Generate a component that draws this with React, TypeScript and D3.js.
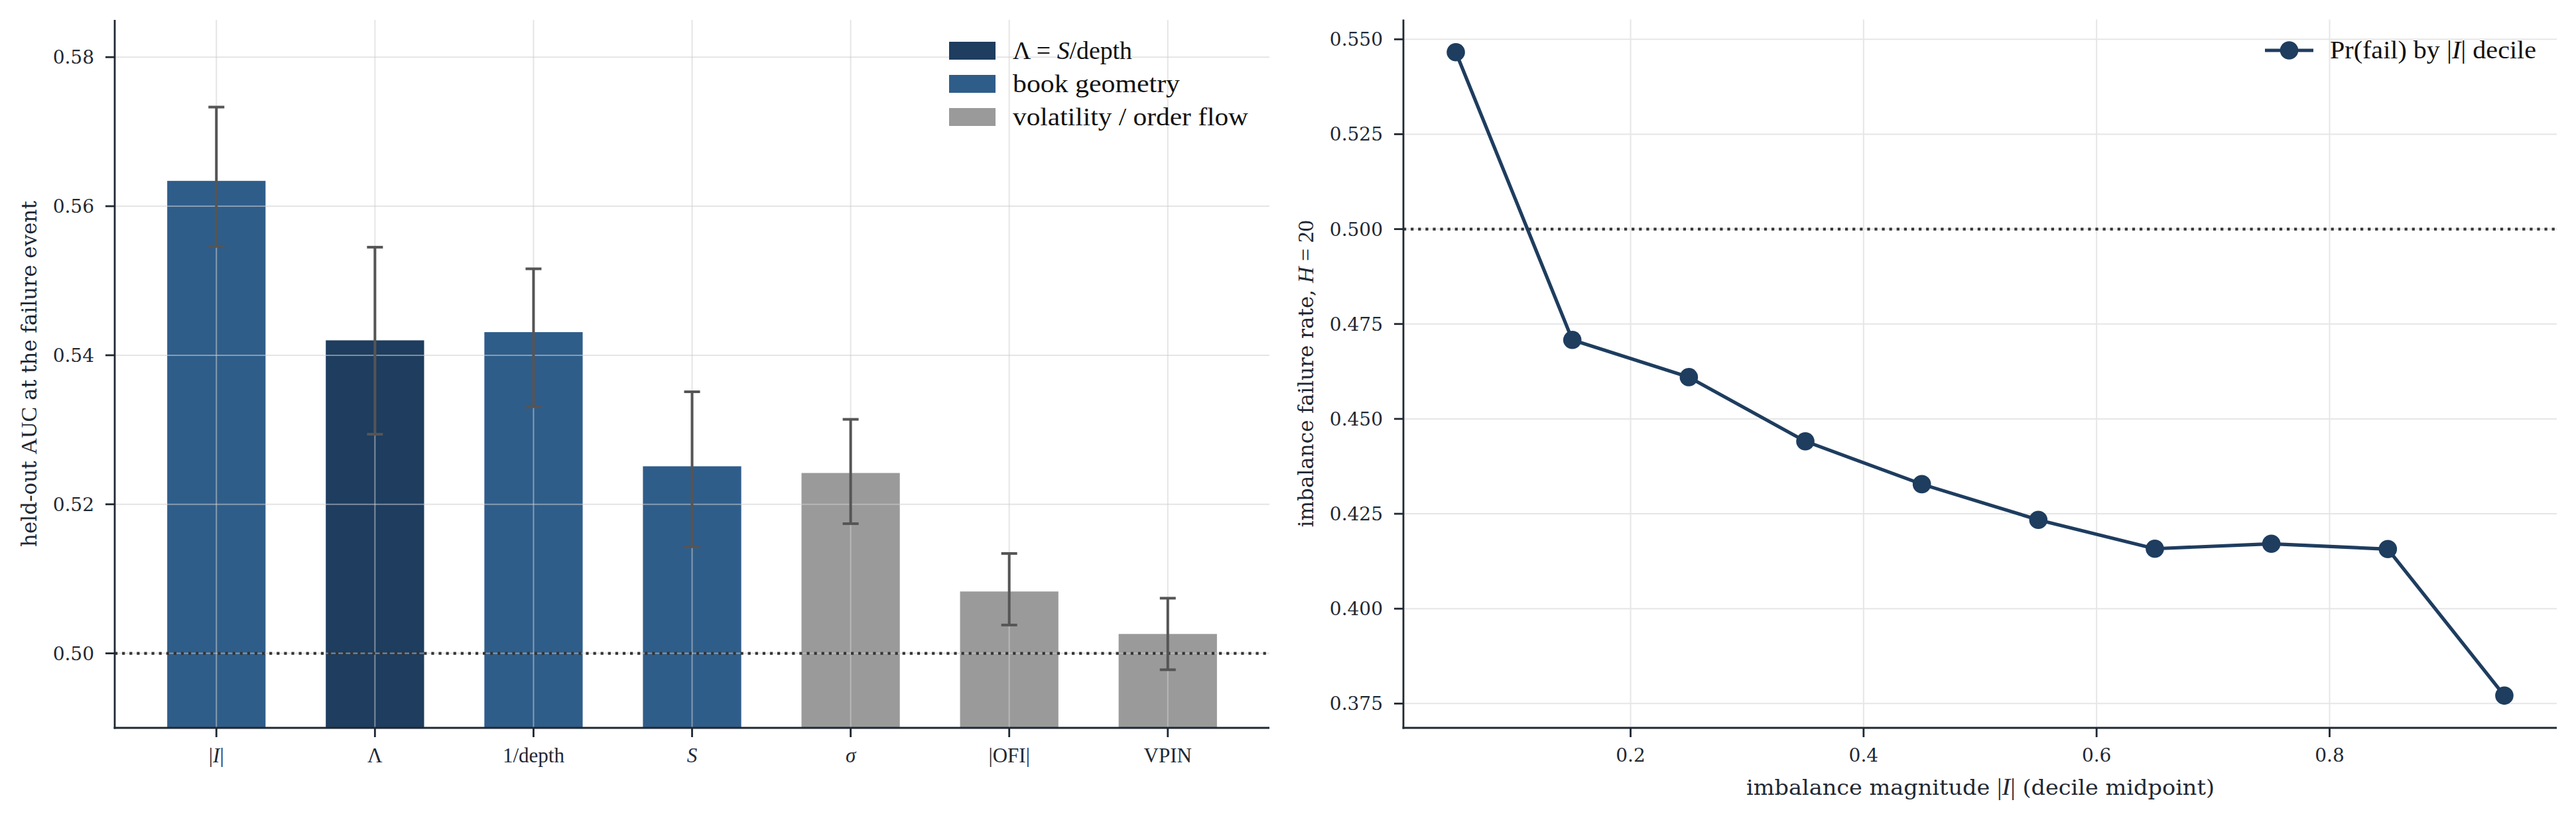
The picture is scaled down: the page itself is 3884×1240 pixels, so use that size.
import React from "react";
import * as d3 from "d3";

// left panel: held-out AUC per feature (mean and bootstrap interval)
const features = ["|*I*|", "Λ", "1/depth", "*S*", "*σ*", "|OFI|", "VPIN"];
const featureGroup = ["book", "lambda", "book", "book", "vol", "vol", "vol"];
const aucMean = [0.5634, 0.542, 0.5431, 0.5251, 0.5242, 0.5083, 0.5026];
const aucLo = [0.5546, 0.5294, 0.5331, 0.5143, 0.5174, 0.5038, 0.4978];
const aucHi = [0.5733, 0.5545, 0.5516, 0.5351, 0.5314, 0.5134, 0.5074];
const aucTicks = [0.5, 0.52, 0.54, 0.56, 0.58];

// right panel: failure rate by |I| decile
const decileMid = [0.05, 0.15, 0.25, 0.35, 0.45, 0.55, 0.65, 0.75, 0.85, 0.95];
const failRate = [0.5466, 0.4708, 0.461, 0.4441, 0.4328, 0.4234, 0.4158, 0.4171, 0.4157, 0.3771];
const rateTicks = [0.375, 0.4, 0.425, 0.45, 0.475, 0.5, 0.525, 0.55];
const magTicks = [0.2, 0.4, 0.6, 0.8];

const groupColor: Record<string, string> = {
  lambda: "#1e3d5f",
  book: "#2f5d8a",
  vol: "#9a9a9a",
};
const legendItems = [
  { key: "lambda", label: "Λ = *S*/depth", len: 180 },
  { key: "book", label: "book geometry", len: 252 },
  { key: "vol", label: "volatility / order flow", len: 355 },
];

const W = 3884;
const H = 1240;
const ink = "#1f2833";
const serif = "'DejaVu Serif', serif";
const mathFont = "'Liberation Serif', 'DejaVu Serif', serif";
const tickSize = 28;
const labelSize = 31;

// "*x*" marks italic pieces (math variables)
function math(s: string) {
  return s.split("*").map((p, i) => (
    <tspan key={i} fontStyle={i % 2 ? "italic" : "normal"}>
      {p}
    </tspan>
  ));
}

function BarPanel() {
  const left = 173;
  const right = 1914;
  const top = 30;
  const bottom = 1098;
  const x = d3.scaleLinear().domain([-0.641, 6.641]).range([left, right]);
  const y = d3.scaleLinear().domain([0.49, 0.585]).range([bottom, top]);
  const bw = x(0.62) - x(0);

  return (
    <g>
      {features.map((f, i) => (
        <rect
          key={f}
          x={x(i) - bw / 2}
          y={y(aucMean[i])}
          width={bw}
          height={bottom - y(aucMean[i])}
          fill={groupColor[featureGroup[i]]}
        />
      ))}
      {/* grid sits over the bars */}
      <g stroke="#cfcfcf" strokeOpacity={0.55} strokeWidth={2}>
        {aucTicks.map((t) => (
          <line key={t} x1={left} x2={right} y1={y(t)} y2={y(t)} />
        ))}
        {features.map((f, i) => (
          <line key={f} x1={x(i)} x2={x(i)} y1={top} y2={bottom} />
        ))}
      </g>
      <line
        x1={left}
        x2={right}
        y1={y(0.5)}
        y2={y(0.5)}
        stroke="#333"
        strokeWidth={4.2}
        strokeDasharray="4.2 6.9"
      />
      <g stroke="#555" strokeWidth={4}>
        {features.map((f, i) => (
          <g key={f}>
            <line x1={x(i)} x2={x(i)} y1={y(aucLo[i])} y2={y(aucHi[i])} />
            <line x1={x(i) - 12} x2={x(i) + 12} y1={y(aucLo[i])} y2={y(aucLo[i])} />
            <line x1={x(i) - 12} x2={x(i) + 12} y1={y(aucHi[i])} y2={y(aucHi[i])} />
          </g>
        ))}
      </g>
      <g stroke={ink} strokeWidth={2.8}>
        <line x1={left} x2={left} y1={top} y2={bottom + 1.4} />
        <line x1={left - 1.4} x2={right} y1={bottom} y2={bottom} />
        {aucTicks.map((t) => (
          <line key={t} x1={left - 14} x2={left} y1={y(t)} y2={y(t)} />
        ))}
        {features.map((f, i) => (
          <line key={f} x1={x(i)} x2={x(i)} y1={bottom} y2={bottom + 14} />
        ))}
      </g>
      {aucTicks.map((t) => (
        <text
          key={t}
          x={left - 31}
          y={y(t) + 10}
          textAnchor="end"
          fontFamily={serif}
          fontSize={tickSize}
          fill={ink}
        >
          {d3.format(".2f")(t)}
        </text>
      ))}
      {features.map((f, i) => (
        <text
          key={f}
          x={x(i)}
          y={1150}
          textAnchor="middle"
          fontFamily={mathFont}
          fontSize={31}
          fill={ink}
        >
          {math(f)}
        </text>
      ))}
      <text
        transform={`translate(55,${(top + bottom) / 2}) rotate(-90)`}
        textAnchor="middle"
        fontFamily={serif}
        fontSize={labelSize}
        fill={ink}
      >
        held-out <tspan fontFamily={mathFont} fontSize={34}>AUC</tspan> at the failure event
      </text>
      {legendItems.map((it, i) => (
        <g key={it.key} transform={`translate(1431,${76.5 + i * 50})`}>
          <rect x={0} y={-13.5} width={70} height={27} fill={groupColor[it.key]} />
          <text
            x={96}
            y={12.5}
            fontFamily={mathFont}
            fontSize={38}
            fill="#111"
            textLength={it.len}
            lengthAdjust="spacingAndGlyphs"
          >
            {math(it.label)}
          </text>
        </g>
      ))}
    </g>
  );
}

function LinePanel() {
  const left = 2116;
  const right = 3855;
  const top = 29.5;
  const bottom = 1098;
  const x = d3.scaleLinear().domain([0.005, 0.995]).range([left, right]);
  const y = d3.scaleLinear().domain([0.3686, 0.5552]).range([bottom, top]);
  const line = d3
    .line<number>()
    .x((_, i) => x(decileMid[i]))
    .y((v) => y(v));
  const navy = "#1e3d5f";

  return (
    <g>
      <g stroke="#e6e6e6" strokeWidth={2}>
        {rateTicks.map((t) => (
          <line key={t} x1={left} x2={right} y1={y(t)} y2={y(t)} />
        ))}
        {magTicks.map((t) => (
          <line key={t} x1={x(t)} x2={x(t)} y1={top} y2={bottom} />
        ))}
      </g>
      <line
        x1={left}
        x2={right}
        y1={y(0.5)}
        y2={y(0.5)}
        stroke="#333"
        strokeWidth={4.2}
        strokeDasharray="4.2 6.9"
      />
      <path d={line(failRate) ?? ""} fill="none" stroke={navy} strokeWidth={5.2} strokeLinejoin="round" />
      {failRate.map((v, i) => (
        <circle key={i} cx={x(decileMid[i])} cy={y(v)} r={13.8} fill={navy} />
      ))}
      <g stroke={ink} strokeWidth={2.8}>
        <line x1={left} x2={left} y1={top} y2={bottom + 1.4} />
        <line x1={left - 1.4} x2={right} y1={bottom} y2={bottom} />
        {rateTicks.map((t) => (
          <line key={t} x1={left - 14} x2={left} y1={y(t)} y2={y(t)} />
        ))}
        {magTicks.map((t) => (
          <line key={t} x1={x(t)} x2={x(t)} y1={bottom} y2={bottom + 14} />
        ))}
      </g>
      {rateTicks.map((t) => (
        <text
          key={t}
          x={left - 31}
          y={y(t) + 10}
          textAnchor="end"
          fontFamily={serif}
          fontSize={tickSize}
          fill={ink}
        >
          {d3.format(".3f")(t)}
        </text>
      ))}
      {magTicks.map((t) => (
        <text
          key={t}
          x={x(t)}
          y={1149}
          textAnchor="middle"
          fontFamily={serif}
          fontSize={tickSize}
          fill={ink}
        >
          {d3.format(".1f")(t)}
        </text>
      ))}
      <text
        x={2633}
        y={1199}
        fontFamily={serif}
        fontSize={labelSize}
        fill={ink}
        textLength={706}
        lengthAdjust="spacingAndGlyphs"
      >
        imbalance magnitude <tspan fontFamily={mathFont} fontSize={35}>|<tspan fontStyle="italic">I</tspan>|</tspan> (decile midpoint)
      </text>
      <text
        transform={`translate(1980,${(top + bottom) / 2}) rotate(-90)`}
        textAnchor="middle"
        fontFamily={serif}
        fontSize={labelSize}
        fill={ink}
      >
        imbalance failure rate, <tspan fontFamily={mathFont} fontSize={34}><tspan fontStyle="italic">H</tspan> = 20</tspan>
      </text>
      <g transform="translate(3415,76)">
        <line x1={0} x2={73} y1={0} y2={0} stroke={navy} strokeWidth={5.2} />
        <circle cx={36.5} cy={0} r={13.8} fill={navy} />
        <text
          x={98}
          y={12}
          fontFamily={mathFont}
          fontSize={38}
          fill="#111"
          textLength={311}
          lengthAdjust="spacingAndGlyphs"
        >
          Pr(fail) by |<tspan fontStyle="italic">I</tspan>| decile
        </text>
      </g>
    </g>
  );
}

export default function App() {
  return (
    <div style={{ position: "absolute", left: 0, top: 0, background: "#fff" }}>
      <style>{`body{margin:0}`}</style>
      <svg width={W} height={H} viewBox={`0 0 ${W} ${H}`} style={{ display: "block" }}>
        <rect width={W} height={H} fill="#fff" />
        <BarPanel />
        <LinePanel />
      </svg>
    </div>
  );
}
